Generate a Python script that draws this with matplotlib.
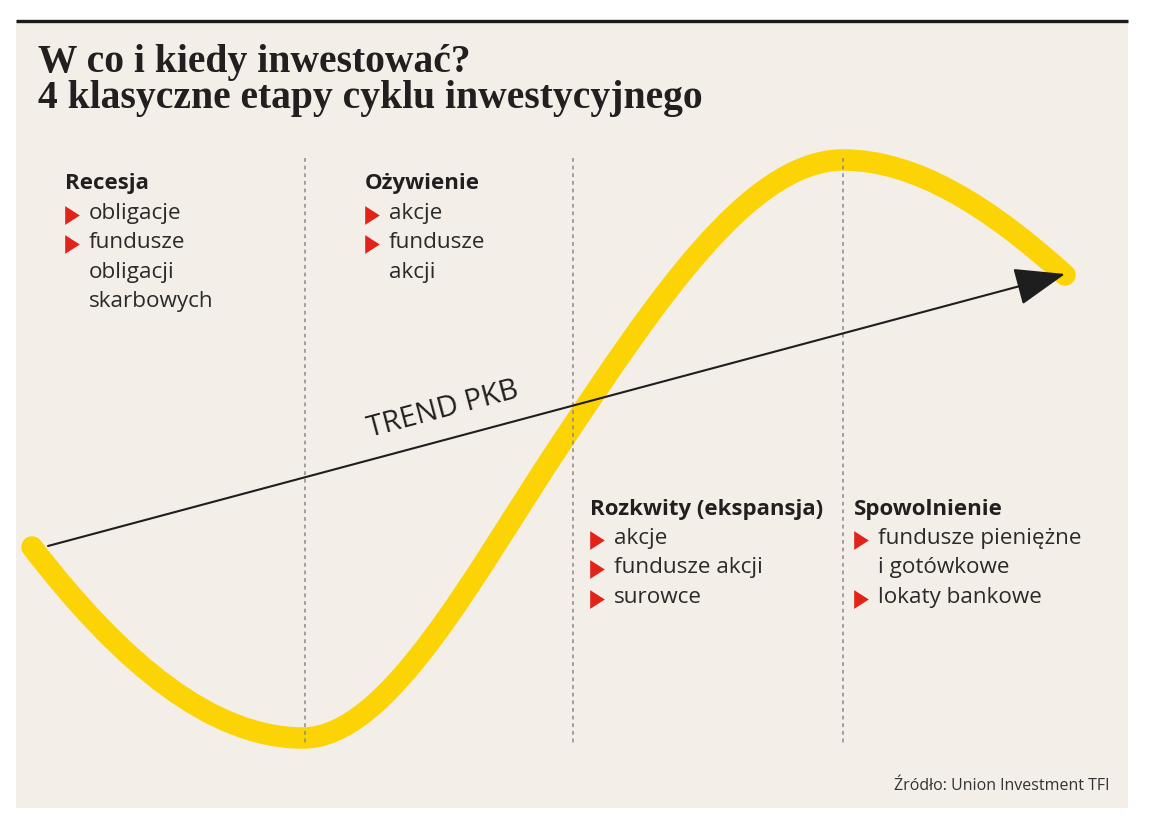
import numpy as np
import matplotlib.pyplot as plt
from matplotlib.path import Path
from matplotlib.patches import PathPatch, Rectangle

# canvas in pixel units (1160 x 836), y grows downward
W, H = 1160, 836

# stage boundaries (dashed lines)
stage_x = [305, 573, 843]
stage_top, stage_bottom = 158, 743

# business-cycle curve: anchor points and their slopes (dy/dx)
cycle_x = [32, 303, 560, 843, 1065]
cycle_y = [547, 738, 445, 160, 275]
cycle_slope = [1.3, 0.0, -1.5, 0.0, 0.9]

# GDP trend arrow
trend_start = (48, 546)
trend_end = (1065, 274)

# text blocks: heading, items, which item gets a red marker
blocks = [
    ("Recesja", ["obligacje", "fundusze", "obligacji", "skarbowych"], [1, 1, 0, 0], 65, 184),
    ("Ożywienie", ["akcje", "fundusze", "akcji"], [1, 1, 0], 365, 184),
    ("Rozkwity (ekspansja)", ["akcje", "fundusze akcji", "surowce"], [1, 1, 1], 590, 509),
    ("Spowolnienie", ["fundusze pieniężne", "i gotówkowe", "lokaty bankowe"], [1, 0, 1], 854, 509),
]

title = "W co i kiedy inwestować?\n4 klasyczne etapy cyklu inwestycyjnego"
source = "Źródło: Union Investment TFI"

BG = "#f3efe8"
YELLOW = "#fcd405"
RED = "#e2231a"
INK = "#231f20"
SANS = ["Open Sans", "DejaVu Sans"]

fig = plt.figure(figsize=(W / 100, H / 100), dpi=100)
fig.patch.set_facecolor("white")
ax = fig.add_axes([0, 0, 1, 1])
ax.set_xlim(0, W)
ax.set_ylim(H, 0)
ax.axis("off")

# panel and top rule
ax.add_patch(Rectangle((16, 21), 1112, 787, facecolor=BG, edgecolor="none", zorder=0))
ax.plot([16, 1128], [21, 21], color="#1a1a1a", lw=2.4, solid_capstyle="butt", zorder=1)

# title (two lines, tight leading like the original); y is the last line's baseline
ax.text(38, 108, title, fontfamily="Liberation Serif", fontweight="bold",
        fontsize=28.5, color=INK, va="baseline", ha="left", linespacing=0.98)

# yellow curve as cubic bezier segments
verts = [(cycle_x[0], cycle_y[0])]
codes = [Path.MOVETO]
for i in range(len(cycle_x) - 1):
    x0, y0, s0 = cycle_x[i], cycle_y[i], cycle_slope[i]
    x1, y1, s1 = cycle_x[i + 1], cycle_y[i + 1], cycle_slope[i + 1]
    d = (x1 - x0) / 3
    verts += [(x0 + d, y0 + s0 * d), (x1 - d, y1 - s1 * d), (x1, y1)]
    codes += [Path.CURVE4] * 3
ax.add_patch(PathPatch(Path(verts, codes), facecolor="none", edgecolor=YELLOW,
                       lw=15.5, capstyle="round", joinstyle="round", zorder=2))

# dashed stage lines
for x in stage_x:
    ax.plot([x, x], [stage_top, stage_bottom], color="#8a8a8a", lw=1.1,
            ls=(0, (2.5, 2.5)), zorder=3)

# trend arrow
ax.annotate("", xy=trend_end, xytext=trend_start,
            arrowprops=dict(arrowstyle="-|>,head_length=1.6,head_width=0.6",
                            mutation_scale=20, color="#1e1e1e", lw=1.5,
                            shrinkA=0, shrinkB=0), zorder=4)
angle = np.degrees(np.arctan2(trend_start[1] - trend_end[1], trend_end[0] - trend_start[0]))
ax.text(443, 410, "TREND PKB", fontfamily=SANS, fontsize=21, color=INK,
        rotation=angle, rotation_mode="anchor", ha="center", va="center", zorder=5)

# stage descriptions
tri = [(-0.78, 1), (0.78, 0), (-0.78, -1)]
for head, items, marks, x, y in blocks:
    ax.text(x, y, head, fontfamily=SANS, fontweight="bold", fontsize=16,
            color=INK, ha="left", va="center")
    for k, (item, m) in enumerate(zip(items, marks)):
        yy = y + 29.5 * (k + 1)
        ax.text(x + 24, yy, item, fontfamily=SANS, fontsize=16.2, color="#2a2a2a",
                ha="left", va="center")
        if m:
            ax.plot(x + 7, yy + 1, marker=tri, markersize=13.5, color=RED, mec="none")

ax.text(1110, 786, source, fontfamily=SANS, fontsize=11.5, color="#333333",
        ha="right", va="center")

fig.savefig("out.png", dpi=100, facecolor=fig.get_facecolor())
